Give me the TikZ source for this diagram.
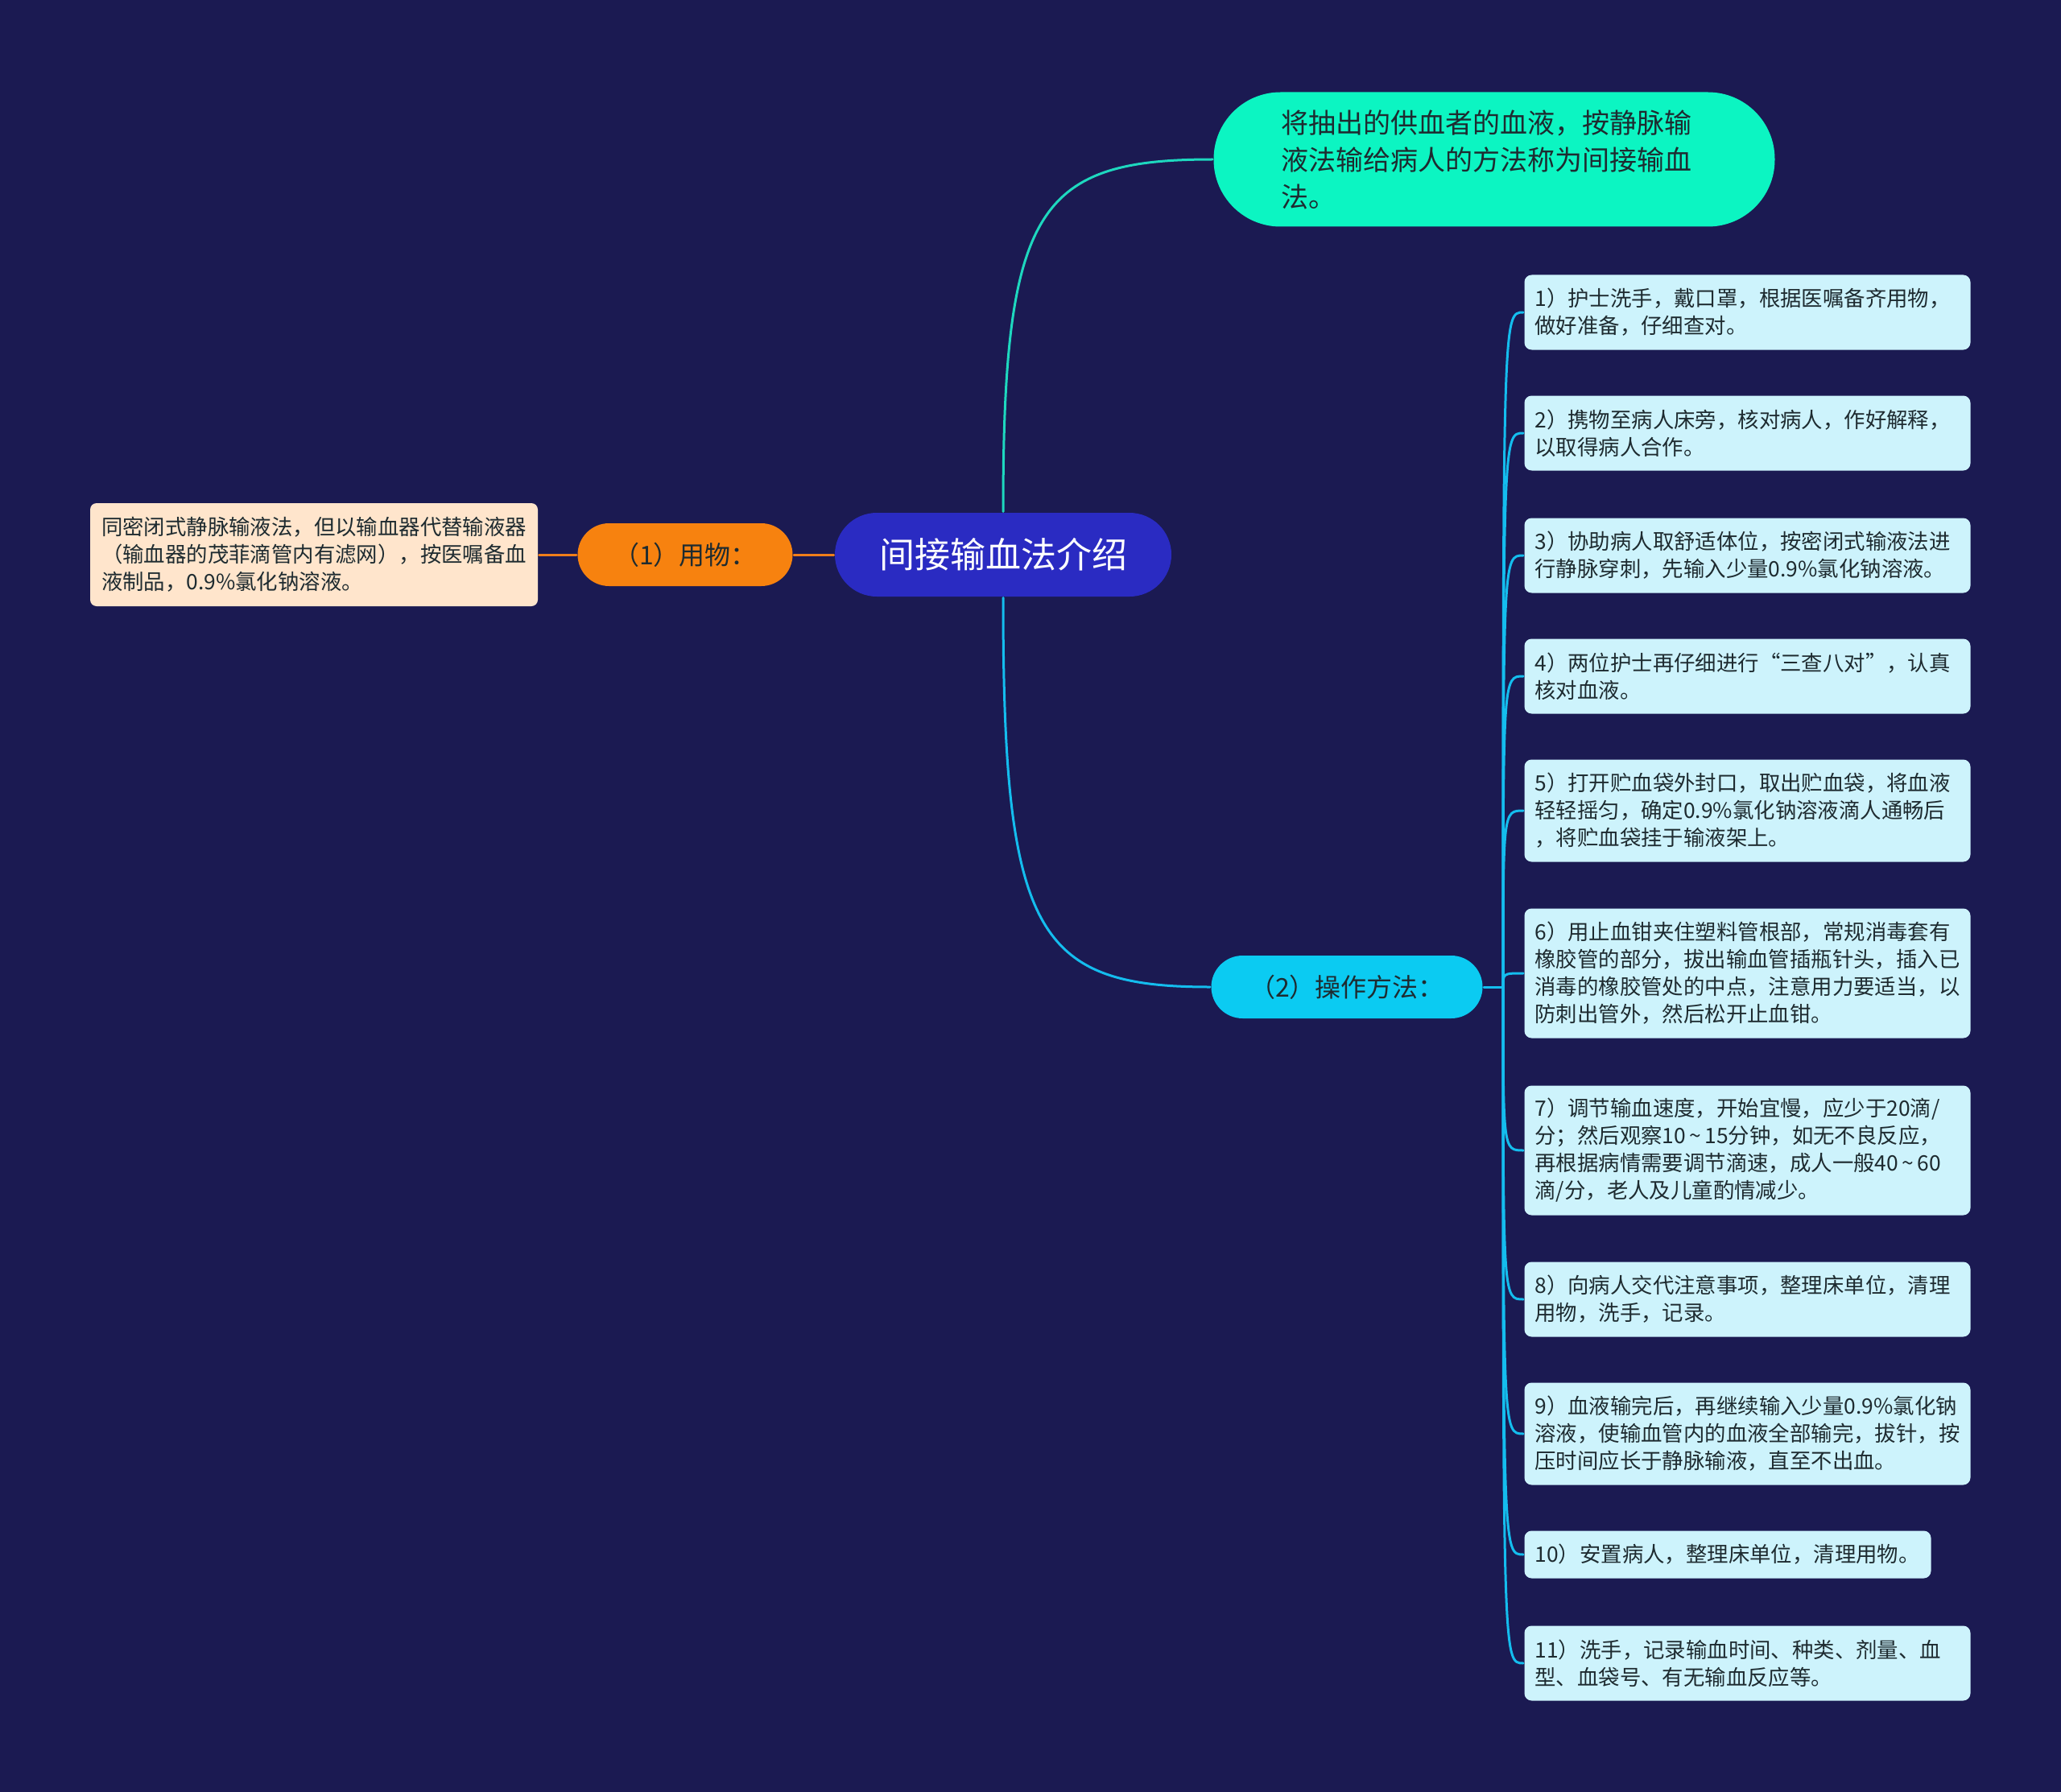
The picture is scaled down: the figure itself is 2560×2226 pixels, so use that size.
\documentclass[tikz,border=0pt]{standalone}
\usepackage{fontspec}
\setmainfont{Noto Sans CJK SC}
\definecolor{bgnavy}{HTML}{1B1A52}
\definecolor{rootblue}{HTML}{2A2BC2}
\definecolor{mintfill}{HTML}{0CF5C2}
\definecolor{orangefill}{HTML}{F7820F}
\definecolor{cyanfill}{HTML}{0BCBF2}
\definecolor{peachfill}{HTML}{FFE5CC}
\definecolor{stepfill}{HTML}{CDF3FC}
\definecolor{mintline}{HTML}{1ED8BF}
\definecolor{cyanline}{HTML}{14BDEE}
\definecolor{orangeline}{HTML}{F07E1A}
\definecolor{darktext}{HTML}{1E2B30}
\newcommand{\wave}{\,\char"7E\,}
\begin{document}
\begin{tikzpicture}[x=1pt,y=-1pt,line width=3pt,line cap=round,font=\fontsize{26.4}{34}\selectfont]
\tikzset{rootnode/.style={fill=rootblue,text=white,minimum width=418,minimum height=104,rounded corners=52,font=\fontsize{44}{50}\selectfont},
topicnode/.style={fill=mintfill,text=darktext,minimum width=697,minimum height=167,rounded corners=83,text width=530,align=left,font=\fontsize{34}{46}\selectfont},
branch/.style={minimum width=#1,minimum height=78,rounded corners=39,text=darktext,font=\fontsize{32}{38}\selectfont},
notebox/.style={fill=peachfill,text=darktext,rounded corners=8,text width=528,inner xsep=14,align=left,minimum height=128},
stepbox/.style={fill=stepfill,text=darktext,rounded corners=9,text width=528,inner xsep=13,align=left,anchor=north west,minimum height=#1},
stepbox/.default=93}
\useasboundingbox[fill=bgnavy] (0,0) rectangle (2560,2226);
% centre and first level
\node[rootnode] (root) at (1246,689) {间接输血法介绍};
\node[topicnode] (topic) at (1856,198) {将抽出的供血者的血液，按静脉输\\液法输给病人的方法称为间接输血\\法。};
\node[branch=267,fill=orangefill] (tools) at (851,689) {（1）用物：};
\node[branch=337,fill=cyanfill] (ops) at (1673,1226) {（2）操作方法：};
\node[notebox] (note) at (390,689) {同密闭式静脉输液法，但以输血器代替输液器\\（输血器的茂菲滴管内有滤网），按医嘱备血\\液制品，0.9\%氯化钠溶液。};
% steps
\node[stepbox] (s1) at (1892,340) {1）护士洗手，戴口罩，根据医嘱备齐用物，\\做好准备，仔细查对。};
\node[stepbox] (s2) at (1892,490) {2）携物至病人床旁，核对病人，作好解释，\\以取得病人合作。};
\node[stepbox] (s3) at (1892,642) {3）协助病人取舒适体位，按密闭式输液法进\\行静脉穿刺，先输入少量0.9\%氯化钠溶液。};
\node[stepbox] (s4) at (1892,792) {4）两位护士再仔细进行“三查八对”，认真\\核对血液。};
\node[stepbox=127] (s5) at (1892,942) {5）打开贮血袋外封口，取出贮血袋，将血液\\轻轻摇匀，确定0.9\%氯化钠溶液滴人通畅后\\，将贮血袋挂于输液架上。};
\node[stepbox=161] (s6) at (1892,1127) {6）用止血钳夹住塑料管根部，常规消毒套有\\橡胶管的部分，拔出输血管插瓶针头，插入已\\消毒的橡胶管处的中点，注意用力要适当，以\\防刺出管外，然后松开止血钳。};
\node[stepbox=161] (s7) at (1892,1347) {7）调节输血速度，开始宜慢，应少于20滴/\\分；然后观察10\wave 15分钟，如无不良反应，\\再根据病情需要调节滴速，成人一般40\wave 60\\滴/分，老人及儿童酌情减少。};
\node[stepbox] (s8) at (1892,1566) {8）向病人交代注意事项，整理床单位，清理\\用物，洗手，记录。};
\node[stepbox=127] (s9) at (1892,1716) {9）血液输完后，再继续输入少量0.9\%氯化钠\\溶液，使输血管内的血液全部输完，拔针，按\\压时间应长于静脉输液，直至不出血。};
\node[stepbox=59,text width=479] (s10) at (1892,1900) {10）安置病人，整理床单位，清理用物。};
\node[stepbox] (s11) at (1892,2018) {11）洗手，记录输血时间、种类、剂量、血\\型、血袋号、有无输血反应等。};
% connectors
\draw[orangeline] (note.east)--(tools.west) (tools.east)--(root.west);
\draw[mintline] (root.north) .. controls +(0,-377) and +(-217,0) .. (topic.west);
\draw[cyanline] (root.south) .. controls +(0,416) and +(-217,0) .. (ops.west);
\coordinate (hub) at ([xshift=24]ops.east);
\draw[cyanline] (ops.east)--(hub);
\foreach \i in {1,...,11}
  \draw[cyanline] (hub) .. controls (hub |- s\i.west) and (hub |- s\i.west) .. (s\i.west);
\end{tikzpicture}
\end{document}
